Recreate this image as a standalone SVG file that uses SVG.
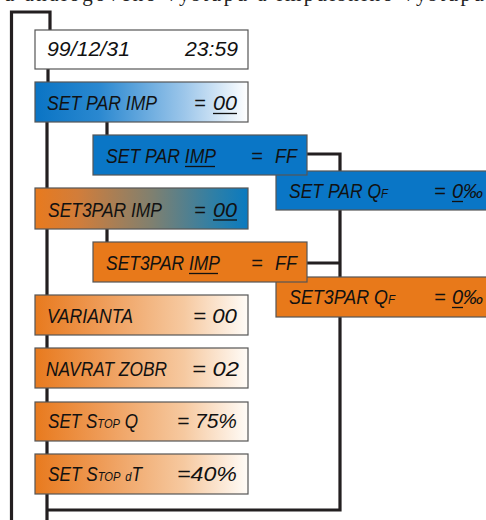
<svg xmlns="http://www.w3.org/2000/svg" width="486" height="520" viewBox="0 0 486 520">
<defs>
<linearGradient id="gBlue" x1="0" y1="0" x2="1" y2="0">
<stop offset="0" stop-color="#0a74c4"/>
<stop offset="0.3" stop-color="#2a88d0"/>
<stop offset="0.7" stop-color="#9cc6ea"/>
<stop offset="1" stop-color="#ffffff"/>
</linearGradient>
<linearGradient id="gMix" x1="0" y1="0" x2="1" y2="0">
<stop offset="0" stop-color="#e87a1e"/>
<stop offset="0.2" stop-color="#d27d3a"/>
<stop offset="0.55" stop-color="#7f8070"/>
<stop offset="0.85" stop-color="#2c7fa8"/>
<stop offset="1" stop-color="#0a7ac0"/>
</linearGradient>
<linearGradient id="gOr" x1="0" y1="0" x2="1" y2="0">
<stop offset="0" stop-color="#e87a1e"/>
<stop offset="0.3" stop-color="#ee9a55"/>
<stop offset="0.7" stop-color="#f6c9a0"/>
<stop offset="1" stop-color="#fffcf8"/>
</linearGradient>
</defs>
<style>
.box{stroke:#555;stroke-width:1.2}
.t{font-family:"Liberation Sans","DejaVu Sans",sans-serif;font-style:italic;font-size:20px;fill:#111}
.s{font-size:13px}
.c{fill:none;stroke:#231f20;stroke-width:3.2;stroke-linejoin:miter}
.u{stroke:#111;stroke-width:1.3}
.top{font-family:"Liberation Serif","DejaVu Serif",serif;font-size:21px;fill:#222}
</style>
<text class="top" x="4" y="0.5" textLength="480" lengthAdjust="spacing">u analogového výstupu a impulsního výstupu</text>
<g id="connectors">
<path class="c" d="M11.5,520 V12 H50 V30"/>
<path class="c" d="M48,69 V82"/>
<path class="c" d="M47,122 V188 M47,229 V295 M47,335 V348 M47,388 V402 M47,441 V454 M47,494 V520"/>
<path class="c" d="M107,122 V135 M107,229 V242"/>
<path class="c" d="M307,154 H340 V171 M340,210 V277 M307,263 H340 M340,317 V510 H47"/>
</g>
<g id="n1">
<rect class="box" x="35" y="30" width="213" height="39" fill="#fff"/>
<text class="t" x="47" y="56" textLength="83" lengthAdjust="spacingAndGlyphs">99/12/31</text>
<text class="t" x="185" y="56" textLength="53" lengthAdjust="spacingAndGlyphs">23:59</text>
</g>
<g id="n2">
<rect class="box" x="35" y="82" width="213" height="40" fill="url(#gBlue)"/>
<text class="t" x="47" y="110" textLength="110" lengthAdjust="spacingAndGlyphs">SET PAR IMP</text>
<text class="t" x="194" y="110">=</text>
<text class="t" x="213" y="110" textLength="24" lengthAdjust="spacingAndGlyphs">00</text>
<line class="u" x1="213" y1="113.5" x2="237" y2="113.5"/>
</g>
<g id="n5">
<rect class="box" x="276" y="171" width="215" height="39" fill="#0a76c6"/>
<text class="t" x="289" y="198" textLength="99" lengthAdjust="spacingAndGlyphs">SET PAR Q<tspan class="s">F</tspan></text>
<text class="t" x="434" y="198">=</text>
<text class="t" x="452" y="198">0‰</text>
<line class="u" x1="452" y1="201.5" x2="463" y2="201.5"/>
</g>
<g id="n3">
<rect class="box" x="93" y="135" width="214" height="40" fill="#0a76c6"/>
<text class="t" x="106" y="163" textLength="110" lengthAdjust="spacingAndGlyphs">SET PAR IMP</text>
<line class="u" x1="185" y1="166.5" x2="215" y2="166.5"/>
<text class="t" x="251" y="163">=</text>
<text class="t" x="275" y="163" textLength="22" lengthAdjust="spacingAndGlyphs">FF</text>
</g>
<g id="n4">
<rect class="box" x="35" y="188" width="213" height="41" fill="url(#gMix)"/>
<text class="t" x="48" y="217" textLength="114" lengthAdjust="spacingAndGlyphs">SET3PAR IMP</text>
<text class="t" x="194" y="217">=</text>
<text class="t" x="213" y="217" textLength="24" lengthAdjust="spacingAndGlyphs">00</text>
<line class="u" x1="213" y1="220" x2="237" y2="220"/>
</g>
<g id="n7">
<rect class="box" x="276" y="277" width="215" height="40" fill="#e8791a"/>
<text class="t" x="289" y="304" textLength="106" lengthAdjust="spacingAndGlyphs">SET3PAR Q<tspan class="s">F</tspan></text>
<text class="t" x="434" y="304">=</text>
<text class="t" x="452" y="304">0‰</text>
<line class="u" x1="452" y1="307.5" x2="463" y2="307.5"/>
</g>
<g id="n6">
<rect class="box" x="93" y="242" width="214" height="40" fill="#e8791a"/>
<text class="t" x="106" y="270" textLength="114" lengthAdjust="spacingAndGlyphs">SET3PAR IMP</text>
<line class="u" x1="189" y1="273.5" x2="218" y2="273.5"/>
<text class="t" x="251" y="270">=</text>
<text class="t" x="275" y="270" textLength="22" lengthAdjust="spacingAndGlyphs">FF</text>
</g>
<g id="n8">
<rect class="box" x="35" y="295" width="213" height="40" fill="url(#gOr)"/>
<text class="t" x="47" y="323" textLength="86" lengthAdjust="spacingAndGlyphs">VARIANTA</text>
<text class="t" x="193" y="323" textLength="44" lengthAdjust="spacingAndGlyphs">= 00</text>
</g>
<g id="n9">
<rect class="box" x="35" y="348" width="213" height="40" fill="url(#gOr)"/>
<text class="t" x="46" y="376" textLength="121" lengthAdjust="spacingAndGlyphs">NAVRAT ZOBR</text>
<text class="t" x="192" y="376" textLength="47" lengthAdjust="spacingAndGlyphs">=  02</text>
</g>
<g id="n10">
<rect class="box" x="35" y="402" width="213" height="39" fill="url(#gOr)"/>
<text class="t" x="48" y="428" textLength="90" lengthAdjust="spacingAndGlyphs">SET S<tspan class="s">TOP</tspan> Q</text>
<text class="t" x="177" y="428" textLength="60" lengthAdjust="spacingAndGlyphs">= 75%</text>
</g>
<g id="n11">
<rect class="box" x="35" y="454" width="213" height="40" fill="url(#gOr)"/>
<text class="t" x="48" y="481" textLength="94" lengthAdjust="spacingAndGlyphs">SET S<tspan class="s">TOP</tspan> <tspan class="s">d</tspan>T</text>
<text class="t" x="177" y="481" textLength="60" lengthAdjust="spacingAndGlyphs">=40%</text>
</g>
</svg>
